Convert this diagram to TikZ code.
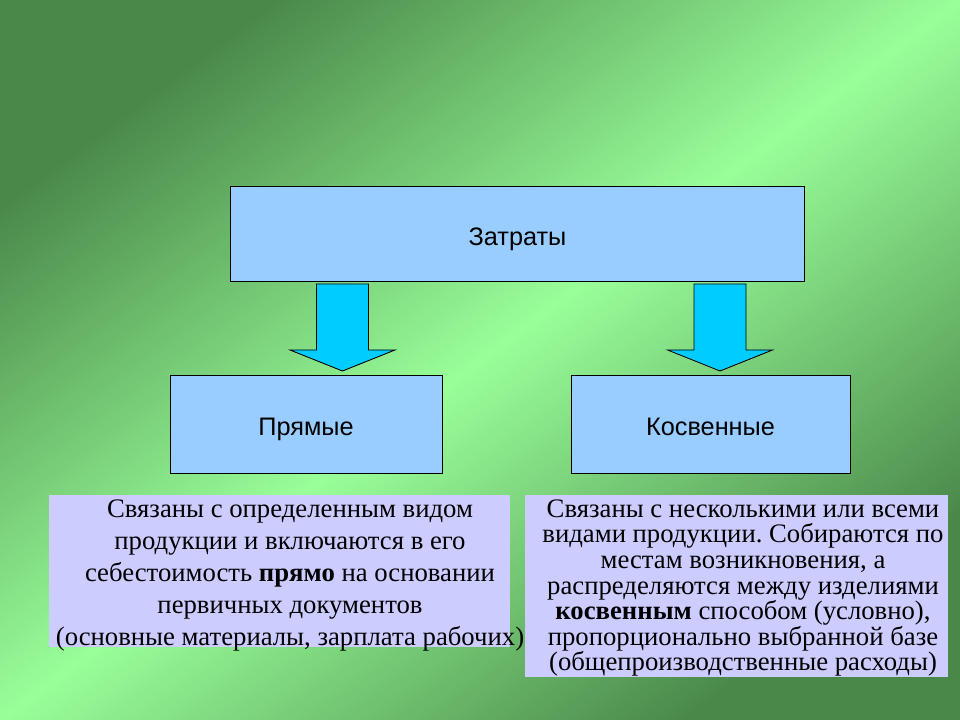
\documentclass[tikz,border=0pt]{standalone}
\usepackage{fontspec}
\setmainfont{Liberation Serif}
\setsansfont{Liberation Sans}
\usetikzlibrary{calc,positioning}
\definecolor{bgdark}{RGB}{74,136,74}
\definecolor{bglight}{RGB}{153,255,153}
\definecolor{boxblue}{RGB}{153,204,255}
\definecolor{arrowcyan}{RGB}{0,204,255}
\definecolor{notelilac}{RGB}{204,204,255}
\frenchspacing
\tikzset{
  kind/.style={draw=black,line width=.6pt,fill=boxblue,inner sep=0pt,
               text height=21pt,text depth=4pt,
               font=\sffamily\fontsize{18}{21}\selectfont},
  note/.style={fill=notelilac,draw=none,inner sep=0pt},
  notetext/.style={align=center,inner sep=0pt,font=\fontsize{19}{22.8}\selectfont},
  fat/.style={draw=black,line width=.6pt,fill=arrowcyan,line join=miter},
}
\newcommand{\fatarrow}[2]{%
  \draw[fat] ($(#1)+(-26,0)$) -- ($(#1)+(26,0)$) -- ($(#2)+(26,-21)$)
    -- ($(#2)+(52.5,-21)$) -- (#2) -- ($(#2)+(-52.5,-21)$)
    -- ($(#2)+(-26,-21)$) -- cycle;}

\begin{document}
\begin{tikzpicture}[x=.025cm,y=-.025cm]
  % --- background
  \useasboundingbox (0,0) rectangle (960,720);
  \shade[top color=bgdark,bottom color=bgdark,middle color=bglight,
         shading angle=36.87] (0,0) rectangle (960,720);
  % --- kinds of costs
  \node[kind,minimum width=14.35cm,minimum height=2.375cm] (costs) at (517.5,233.5) {Затраты};
  \node[kind,minimum width=6.8cm,minimum height=2.45cm] (direct) at (306,424) {Прямые};
  \node[kind,minimum width=6.975cm,minimum height=2.45cm] (indirect) at (710.5,424) {Косвенные};
  % --- block arrows
  \coordinate (dirtop) at (342.5,284);
  \coordinate (dirtip) at (342.5,371);
  \coordinate (indtop) at (720,284);
  \coordinate (indtip) at (720,371);
  \fatarrow{dirtop}{dirtip}
  \fatarrow{indtop}{indtip}
  % --- notes
  \node[note,minimum width=11.525cm,minimum height=3.8cm] (dirnote) at (279.5,571) {};
  \node[notetext] (dirtext) at (290,575.5) {Связаны с определенным видом\\
    продукции и включаются в его\\
    себестоимость \textbf{прямо} на основании\\
    первичных документов\\
    (основные материалы, зарплата рабочих)};
  \node[note,minimum width=10.575cm,minimum height=4.55cm] (indnote) at (736.5,586) {};
  \node[notetext,font=\fontsize{19}{18.2}\selectfont] (indtext) at (743,588) {Связаны с несколькими или всеми\\
    видами продукции. Собираются по\\
    местам возникновения, а\\
    распределяются между изделиями\\
    \textbf{косвенным} способом (условно),\\
    пропорционально выбранной базе\\
    (общепроизводственные расходы)};
\end{tikzpicture}
\end{document}
